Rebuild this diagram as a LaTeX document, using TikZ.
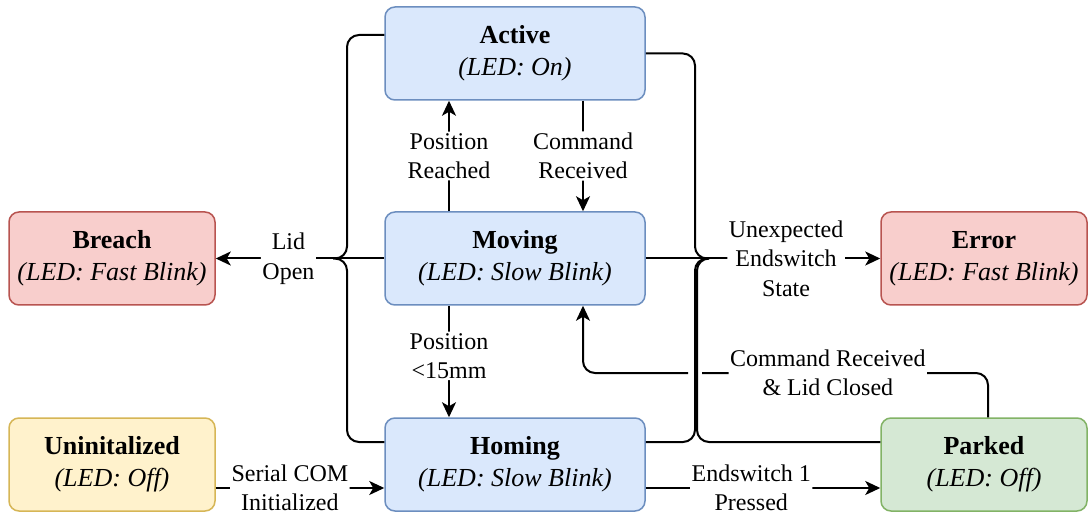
\documentclass[tikz,border=0pt]{standalone}
\usepackage{fontspec}
\setmainfont{Liberation Serif}
\usetikzlibrary{arrows.meta}

\definecolor{bluefill}{HTML}{DAE8FC}
\definecolor{bluedraw}{HTML}{6C8EBF}
\definecolor{redfill}{HTML}{F8CECC}
\definecolor{reddraw}{HTML}{B85450}
\definecolor{yellowfill}{HTML}{FFF2CC}
\definecolor{yellowdraw}{HTML}{D6B656}
\definecolor{greenfill}{HTML}{D5E8D4}
\definecolor{greendraw}{HTML}{82B366}

\begin{document}
\begin{tikzpicture}[x=1pt,y=-1pt,
  txt/.style={font=\fontsize{24}{29.5}\selectfont},
  state/.style={font=\fontsize{26}{32}\selectfont, draw, rounded corners=10pt, line width=1.5pt,
    minimum width=260pt, minimum height=93pt, align=center, inner sep=0pt},
  bluestate/.style={state, fill=bluefill, draw=bluedraw},
  redstate/.style={state, fill=redfill, draw=reddraw, minimum width=206pt},
  yellowstate/.style={state, fill=yellowfill, draw=yellowdraw, minimum width=206pt},
  greenstate/.style={state, fill=greenfill, draw=greendraw, minimum width=206pt},
  lbl/.style={txt, fill=white, inner sep=1.5pt, align=center},
  conn/.style={line width=2pt, rounded corners=12pt},
  arr/.style={conn, -{Stealth[length=15pt,width=14pt,inset=4pt]}}]

\fill[white] (0,0) rectangle (1088,513);
\useasboundingbox (0,0) rectangle (1088,513);

% states
\node[bluestate] (active) at (515,53.5) {\textbf{Active}\\\textit{(LED: On)}};
\node[bluestate] (moving) at (515,258.5) {\textbf{Moving}\\\textit{(LED: Slow Blink)}};
\node[bluestate] (homing) at (515,464.5) {\textbf{Homing}\\\textit{(LED: Slow Blink)}};
\node[redstate] (breach) at (112,258.5) {\textbf{Breach}\\\textit{(LED: Fast Blink)}};
\node[redstate] (error) at (984,258.5) {\textbf{Error}\\\textit{(LED: Fast Blink)}};
\node[yellowstate] (uninit) at (112,464.5) {\textbf{Uninitalized}\\\textit{(LED: Off)}};
\node[greenstate] (parked) at (984,464.5) {\textbf{Parked}\\\textit{(LED: Off)}};

% junction points of the merged transitions
\coordinate (jl) at (333,258.5);
\coordinate (jr) at (709,258.5);
\coordinate (hopR) at (702,373);
\coordinate (hopL) at (688,373);

% return to Moving from Parked (drawn first, with a hop over the bus)
\draw[conn] ([xshift=4pt]parked.north) |- node[lbl,pos=0.78]{Command Received\\\& Lid Closed} (hopR);
\draw[arr] (hopL) -| ([xshift=68pt]moving.south);

% lid open bus
\draw[conn] ([yshift=18.5pt]active.west) -| (347,258.5) -- (jl);
\draw[conn] (moving.west) -- (jl);
\draw[conn] ([yshift=22.5pt]homing.west) -| (347,258.5) -- (jl);
\draw[arr] (jl) -- node[lbl,pos=0.38]{Lid\\Open} (breach.east);

% endswitch fault bus
\draw[conn] (active.east) -| (695,258.5) -- (jr);
\draw[conn] (moving.east) -- (jr);
\draw[conn] ([yshift=22.5pt]homing.east) -| (695,258.5) -- (jr);
\draw[conn] ([yshift=22.5pt]parked.west) -| (697,258.5) -- (jr);
\draw[arr] (jr) -- node[lbl,pos=0.45]{Unexpected\\Endswitch\\State} (error.west);

% vertical transitions
\draw[arr] ([xshift=-66pt]moving.north) -- node[lbl]{Position\\Reached} ([xshift=-66pt]active.south);
\draw[arr] ([xshift=68pt]active.south) -- node[lbl]{Command\\Received} ([xshift=68pt]moving.north);
\draw[arr] ([xshift=-66pt]moving.south) -- node[lbl,pos=0.45]{Position\\<15mm} ([xshift=-66pt]homing.north);

% bottom row
\draw[arr] ([yshift=-23.5pt]uninit.east) -- node[lbl,pos=0.44]{Serial COM\\Initialized} ([yshift=-23.5pt]homing.west);
\draw[arr] ([yshift=-23.5pt]homing.east) -- node[lbl,pos=0.45]{Endswitch 1\\Pressed} ([yshift=-23.5pt]parked.west);
\end{tikzpicture}
\end{document}
